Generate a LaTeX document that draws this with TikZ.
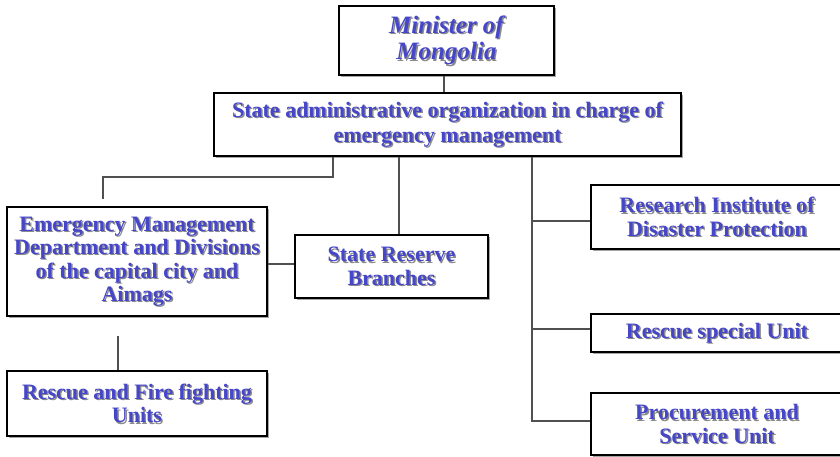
\documentclass[tikz,border=0pt]{standalone}
\usepackage{fontspec}
\setmainfont{Liberation Serif}
\usetikzlibrary{shadows}
\definecolor{orgblue}{HTML}{4646C8}
\definecolor{txtshadow}{HTML}{8A8A8A}
\definecolor{linegray}{HTML}{505050}
\tikzset{
  orgbox/.style={draw=black, line width=2.2pt, fill=white, inner sep=0pt,
    drop shadow={shadow xshift=1.8pt, shadow yshift=-1.8pt, fill=black!35, opacity=1}},
  orgtxt/.style={align=center, inner sep=0pt, text=orgblue,
    font=\bfseries\fontsize{22}{23.5}\selectfont},
  conn/.style={draw=linegray, line width=1.1pt}
}
% box with corners (x1,y1)-(x2,y2) and shadowed label
\newcommand\orgunit[6]{%
  \node[orgbox, minimum width={#4-#2}, minimum height={#5-#3}] (#1) at ({(#2+#4)/2},{(#3+#5)/2}) {};
  \node[orgtxt, text=txtshadow] (#1-sh) at ([shift={(1.4pt,-1.4pt)}]#1.center) {#6};
  \node[orgtxt] (#1-t) at (#1.center) {#6};
}
\newcommand\ministerfont{\bfseries\itshape\fontsize{25}{27}\selectfont}
\begin{document}
\begin{tikzpicture}[x=1pt, y=-1pt]
\useasboundingbox (0,0) rectangle (840,457);
\fill[white] (0,0) rectangle (840,457);

\orgunit{min}{339}{6}{554}{75}{\ministerfont Minister of\\[3pt]\ministerfont Mongolia}
\orgunit{sa}{214}{93}{681}{156}{State administrative organization in charge of\\[1pt]emergency management}
\orgunit{em}{7}{207}{267}{316}{Emergency Management\\Department and Divisions\\of the capital city and\\Aimags}
\orgunit{sr}{295}{235}{488}{298}{State Reserve\\Branches}
\orgunit{rf}{7}{371}{267}{436}{Rescue and Fire fighting\\Units}
\orgunit{ri}{591}{185}{843}{249}{Research Institute of\\Disaster Protection}
\orgunit{rs}{591}{314}{843}{352}{Rescue special Unit}
\orgunit{ps}{591}{393}{843}{455}{Procurement and\\Service Unit}

% free ends of the connectors
\coordinate (emtop) at (103,199);
\coordinate (embot) at (118,336);
\coordinate (spine) at (532,421);

\draw[conn] (min.south -| 444,0) -- (sa.north -| 444,0);
\draw[conn] (sa.south -| 333,0) |- (103,177) -- (emtop);
\draw[conn] (sa.south -| 399,0) -- (sr.north -| 399,0);
\draw[conn] (sa.south -| spine) -- (spine) -- (ps.west |- spine);
\draw[conn] (532,221) -- (ri.west |- 0,221);
\draw[conn] (532,329) -- (rs.west |- 0,329);
\draw[conn] (em.east |- 0,264) -- (sr.west |- 0,264);
\draw[conn] (embot) -- (rf.north -| embot);
\end{tikzpicture}
\end{document}
